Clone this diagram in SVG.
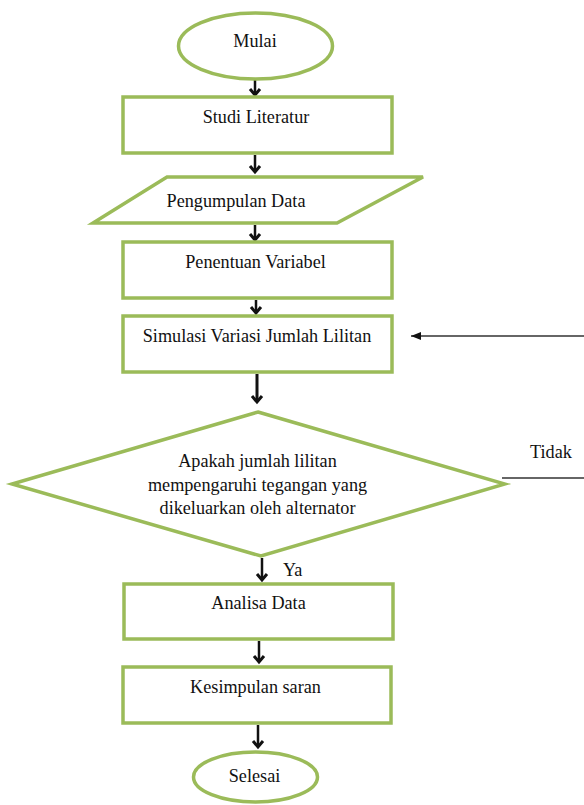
<svg xmlns="http://www.w3.org/2000/svg" width="584" height="805" viewBox="0 0 584 805">
<defs>
<style>
.shape{fill:#ffffff;stroke:#9bbb59;stroke-width:3.5}
.lbl{font-family:"Liberation Serif","Times New Roman",serif;font-size:18.2px;fill:#111;text-anchor:middle}
.conn{stroke:#111;stroke-width:2.5;fill:none}
.thin{stroke:#333;stroke-width:1.4;fill:none}
</style>
<marker id="chev" markerUnits="userSpaceOnUse" markerWidth="14" markerHeight="14" refX="10" refY="7" orient="auto" viewBox="0 0 14 14">
<path d="M4,2 L10,7 L4,12" fill="none" stroke="#111" stroke-width="3"/>
</marker>
<marker id="tri" markerUnits="userSpaceOnUse" markerWidth="12" markerHeight="10" refX="10" refY="5" orient="auto" viewBox="0 0 12 10">
<path d="M0,1 L10,5 L0,9 Z" fill="#111"/>
</marker>
</defs>
<rect width="584" height="805" fill="#ffffff"/>

<g id="connectors">
<line class="conn" x1="255" y1="80" x2="255" y2="95" marker-end="url(#chev)"/>
<line class="conn" x1="255" y1="155" x2="255" y2="172" marker-end="url(#chev)"/>
<line class="conn" x1="255" y1="225" x2="255" y2="240" marker-end="url(#chev)"/>
<line class="conn" x1="256" y1="300" x2="256" y2="313" marker-end="url(#chev)"/>
<line class="conn" x1="257" y1="374" x2="257" y2="402" marker-end="url(#chev)" style="stroke-width:3"/>
<line class="conn" x1="262" y1="558" x2="262" y2="580" marker-end="url(#chev)"/>
<line class="conn" x1="259" y1="641" x2="259" y2="662" marker-end="url(#chev)"/>
<line class="conn" x1="258" y1="725" x2="258" y2="747" marker-end="url(#chev)"/>
<line class="thin" x1="584" y1="336" x2="411" y2="336" marker-end="url(#tri)"/>
<line class="thin" x1="502" y1="478" x2="584" y2="478"/>
<text class="lbl" x="551" y="458">Tidak</text>
<text class="lbl" x="283" y="576" style="text-anchor:start">Ya</text>
</g>

<g id="mulai">
<ellipse class="shape" cx="255.5" cy="46" rx="77" ry="33"/>
<text class="lbl" x="255" y="47">Mulai</text>
</g>

<g id="studi-literatur">
<rect class="shape" x="123" y="97" width="269" height="56"/>
<text class="lbl" x="256" y="123">Studi Literatur</text>
</g>

<g id="pengumpulan-data">
<polygon class="shape" points="167,177 423,177 337,223 93,223"/>
<text class="lbl" x="236" y="207">Pengumpulan Data</text>
</g>

<g id="penentuan-variabel">
<rect class="shape" x="123" y="242" width="269" height="56"/>
<text class="lbl" x="255.5" y="268">Penentuan Variabel</text>
</g>

<g id="simulasi">
<rect class="shape" x="123" y="316" width="269" height="56"/>
<text class="lbl" x="257" y="342">Simulasi Variasi Jumlah Lilitan</text>
</g>

<g id="keputusan">
<polygon class="shape" points="258,412 505,484 261,556 12,484"/>
<text class="lbl" x="257.5" y="467">Apakah jumlah lilitan</text>
<text class="lbl" x="257.5" y="491">mempengaruhi tegangan yang</text>
<text class="lbl" x="257.5" y="514">dikeluarkan oleh alternator</text>
</g>

<g id="analisa-data">
<rect class="shape" x="124" y="584" width="269" height="55"/>
<text class="lbl" x="258.5" y="609">Analisa Data</text>
</g>

<g id="kesimpulan">
<rect class="shape" x="123" y="667" width="268" height="56"/>
<text class="lbl" x="255.5" y="693">Kesimpulan saran</text>
</g>

<g id="selesai">
<ellipse class="shape" cx="255.5" cy="777" rx="62" ry="25"/>
<text class="lbl" x="254.5" y="782">Selesai</text>
</g>
</svg>
